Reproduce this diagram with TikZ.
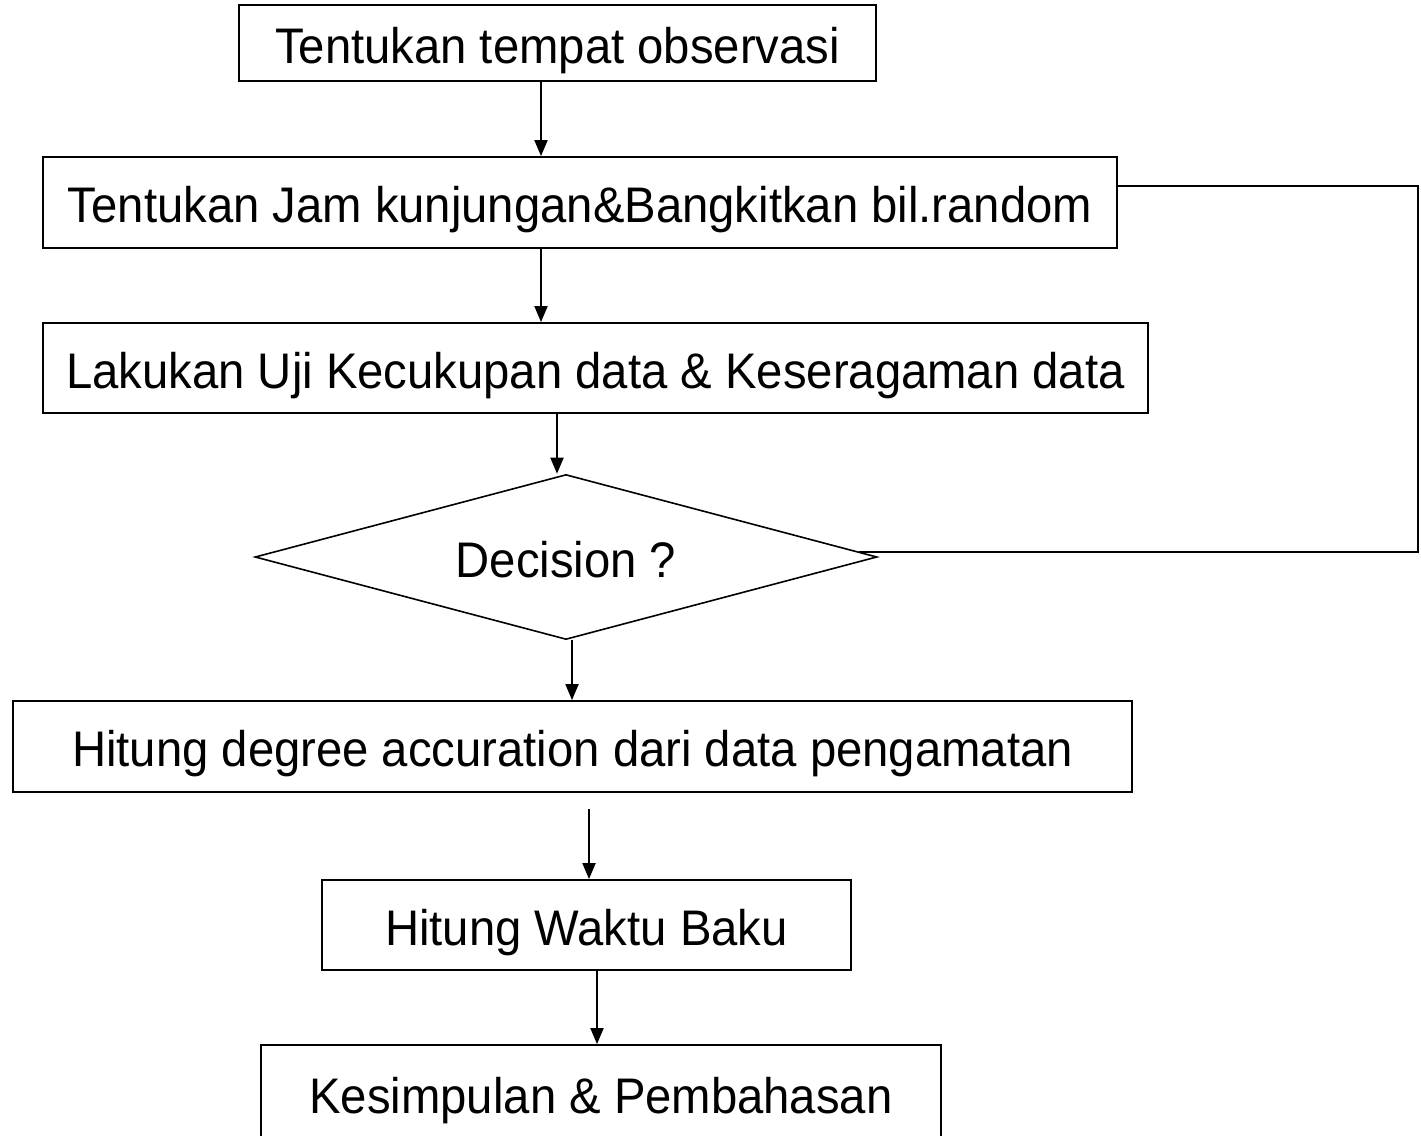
\documentclass[tikz,border=0pt]{standalone}
\usepackage{fontspec}
\setmainfont{Liberation Sans}[FakeStretch=0.945]
\usetikzlibrary{shapes.geometric,arrows.meta,calc}
\begin{document}
\begin{tikzpicture}[x=1pt,y=-1pt,
  txt/.style={font=\fontsize{50}{58}\selectfont,text height=40pt,text depth=0pt},
  box/.style={draw,line width=1.8pt,rectangle,inner sep=0pt,txt},
  dec/.style={draw,line width=1.6pt,diamond,inner sep=0pt,aspect=3.77,minimum width=622pt,minimum height=165pt,txt},
  arr/.style={line width=1.9pt,-{Triangle[length=16pt,width=13pt]}},
  loopline/.style={line width=1.6pt}]
\clip (0,0) rectangle (1421,1135);
\fill[white] (0,0) rectangle (1421,1135);
\node[box,minimum width=637pt,minimum height=76pt] (b1) at (557.5,43) {Tentukan tempat observasi};
\node[box,minimum width=1074pt,minimum height=91pt] (b2) at (580,202.5) {Tentukan Jam kunjungan\&Bangkitkan bil.random};
\node[box,minimum width=1105pt,minimum height=90pt] (b3) at (595.5,368) {Lakukan Uji Kecukupan data \& Keseragaman data};
\node[dec] (d) at (566,557) {Decision ?};
\node[box,minimum width=1119pt,minimum height=91pt] (b4) at (572.5,746.5) {Hitung degree accuration dari data pengamatan};
\node[box,minimum width=529pt,minimum height=90pt] (b5) at (586.5,925) {Hitung Waktu Baku};
\node[box,minimum width=680pt,minimum height=96pt] (b6) at (601,1093) {Kesimpulan \& Pembahasan};
\coordinate (x1) at (541,0);
\coordinate (x3) at (557,0);
\coordinate (x4) at (572,0);
\coordinate (x5) at (589,0);
\coordinate (x6) at (597,0);
\coordinate (L1) at (1418,186);
\coordinate (dr) at ($(d.east)!0.06!(d.north)$);
\draw[arr] (b1.south -| x1) -- (b2.north -| x1);
\draw[arr] (b2.south -| x1) -- (b3.north -| x1);
\draw[arr] (b3.south -| x3) -- (d.north -| x3);
\draw[arr] (d.south -| x4) -- (b4.north -| x4);
\draw[arr,shorten <=16pt] (b4.south -| x5) -- (b5.north -| x5);
\draw[arr] (b5.south -| x6) -- (b6.north -| x6);
\draw[loopline] (b2.east |- L1) -- (L1) |- (dr);
\end{tikzpicture}
\end{document}
